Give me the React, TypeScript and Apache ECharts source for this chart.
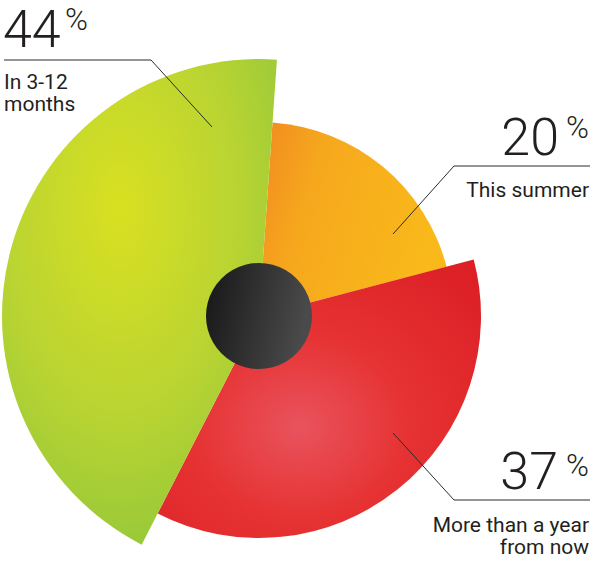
import React, { useEffect, useRef } from "react";
import * as echarts from "echarts";

const categories = ["This summer", "More than a year from now", "In 3-12 months"];
const values = [20, 37, 44];
const pctLabels = ["20", "37", "44"];
const labelLines = [["This summer"], ["More than a year", "from now"], ["In 3-12", "months"]];

const CX = 259;
const CY = 316;
const radii = [194, 222, 257];
const holeRadius = 53;
const TEXT = "#231f20";
const LINE = "#2b2b2b";

const fills: any[] = [
  {
    type: "linear", x: 0, y: 0, x2: 1, y2: 0.3,
    colorStops: [
      { offset: 0, color: "#f18a20" },
      { offset: 0.35, color: "#f6a81d" },
      { offset: 1, color: "#f9b91a" },
    ],
  },
  {
    type: "radial", x: 0.44, y: 0.6, r: 0.75,
    colorStops: [
      { offset: 0, color: "#e9535e" },
      { offset: 0.45, color: "#e63232" },
      { offset: 1, color: "#dc2026" },
    ],
  },
  {
    type: "radial", x: 0.43, y: 0.31, r: 0.85,
    colorStops: [
      { offset: 0, color: "#d9e021" },
      { offset: 0.5, color: "#b9d432" },
      { offset: 1, color: "#86c33d" },
    ],
  },
];

export default function App() {
  const ref = useRef<HTMLDivElement>(null);
  useEffect(() => {
    const chart = echarts.init(ref.current!, null, { renderer: "svg" });
    const series: any[] = radii.map((r, i) => ({
      type: "pie",
      center: [CX, CY],
      radius: [0, r],
      startAngle: 86,
      clockwise: true,
      silent: true,
      avoidLabelOverlap: false,
      label: { show: false },
      labelLine: { show: false },
      emphasis: { disabled: true },
      z: 2 + i,
      data: values.map((v, j) => ({
        value: v,
        name: categories[j],
        itemStyle: { color: j === i ? fills[i] : "rgba(0,0,0,0)", borderWidth: 0 },
      })),
    }));
    series.push({
      type: "pie",
      center: [CX, CY],
      radius: [0, holeRadius],
      silent: true,
      label: { show: false },
      labelLine: { show: false },
      emphasis: { disabled: true },
      z: 10,
      data: [
        {
          value: 1,
          name: "hole",
          itemStyle: {
            color: {
              type: "linear", x: 0, y: 0, x2: 1, y2: 0.2,
              colorStops: [
                { offset: 0, color: "#161616" },
                { offset: 1, color: "#4a4a4a" },
              ],
            },
          },
        },
      ],
    });

    const bigFont = (s: number) => `300 ${s}px Roboto, "Liberation Sans", sans-serif`;
    const smallFont = `400 21px Roboto, "Liberation Sans", sans-serif`;

    const graphic: any[] = [
      // 44% (In 3-12 months)
      { type: "text", style: { text: pctLabels[2], x: 3, y: 29, font: bigFont(52), fill: TEXT, textAlign: "left", textVerticalAlign: "middle" } },
      { type: "text", style: { text: "%", x: 65, y: 19, font: bigFont(31), fill: TEXT, textAlign: "left", textVerticalAlign: "middle" } },
      { type: "polyline", shape: { points: [[4, 60], [151, 60], [212, 127]] }, style: { stroke: LINE, lineWidth: 1, fill: null } },
      { type: "text", style: { text: labelLines[2].join("\n"), x: 4, y: 93, font: smallFont, lineHeight: 22, fill: TEXT, textAlign: "left", textVerticalAlign: "middle" } },
      // 20% (This summer)
      { type: "text", style: { text: pctLabels[0], x: 559, y: 137, font: bigFont(52), fill: TEXT, textAlign: "right", textVerticalAlign: "middle" } },
      { type: "text", style: { text: "%", x: 589, y: 127, font: bigFont(31), fill: TEXT, textAlign: "right", textVerticalAlign: "middle" } },
      { type: "polyline", shape: { points: [[590, 166], [454, 166], [393, 234]] }, style: { stroke: LINE, lineWidth: 1, fill: null } },
      { type: "text", style: { text: labelLines[0][0], x: 589, y: 190, font: smallFont, fill: TEXT, textAlign: "right", textVerticalAlign: "middle" } },
      // 37% (More than a year from now)
      { type: "text", style: { text: pctLabels[1], x: 558, y: 471, font: bigFont(52), fill: TEXT, textAlign: "right", textVerticalAlign: "middle" } },
      { type: "text", style: { text: "%", x: 589, y: 465, font: bigFont(31), fill: TEXT, textAlign: "right", textVerticalAlign: "middle" } },
      { type: "polyline", shape: { points: [[590, 500], [454, 500], [393, 433]] }, style: { stroke: LINE, lineWidth: 1, fill: null } },
      { type: "text", style: { text: labelLines[1].join("\n"), x: 589, y: 536, font: smallFont, lineHeight: 22, fill: TEXT, textAlign: "right", textVerticalAlign: "middle" } },
    ];

    chart.setOption({
      animation: false,
      backgroundColor: "#ffffff",
      series,
      graphic: { elements: graphic.map((g) => ({ ...g, z: 100 })) },
    });
    return () => chart.dispose();
  }, []);
  return (
    <div
      ref={ref}
      style={{ position: "fixed", left: 0, top: 0, width: 598, height: 568 }}
    />
  );
}
